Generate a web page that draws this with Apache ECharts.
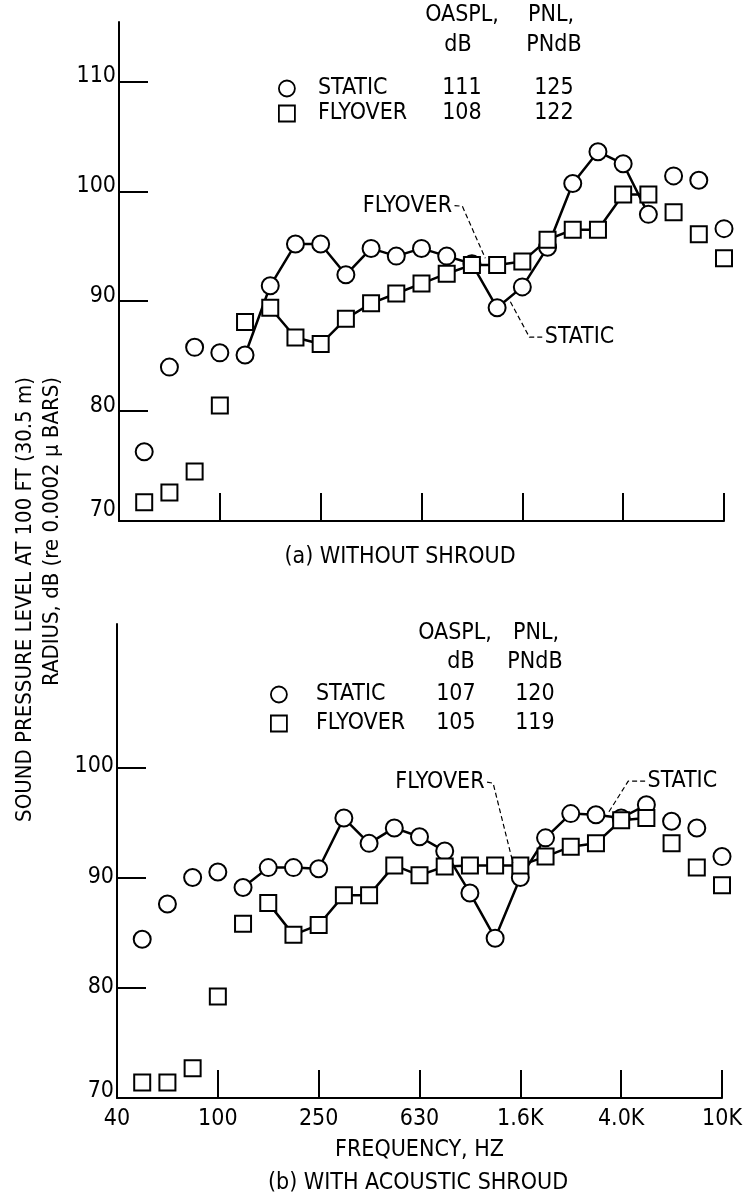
<!DOCTYPE html>
<html><head><meta charset="utf-8">
<script src="https://cdn.jsdelivr.net/npm/echarts@6/dist/echarts.min.js"></script>
<style>html,body{margin:0;padding:0;background:#fff}#c{width:745px;height:1198px}</style>
</head><body><div id="c"></div>
<script>
// one-third-octave band centre frequencies (Hz); index in this list = position on the x axis
const bands = [40,50,63,80,100,125,160,200,250,315,400,500,630,800,1000,1250,1600,2000,2500,3150,4000,5000,6300,8000,10000];
const measuredBands = [50,63,80,100,125,160,200,250,315,400,500,630,800,1000,1250,1600,2000,2500,3150,4000,5000,6300,8000,10000];
const tickLabels = ['40','100','250','630','1.6K','4.0K','10K'];

// (a) without shroud, dB
const staticA  = [76.3,84.0,85.8,85.3,85.1,91.4,95.2,95.2,92.4,94.8,94.1,94.8,94.1,93.4,89.4,91.3,94.9,100.7,103.6,102.5,97.9,101.4,101.0,96.6];
const flyoverA = [71.7,72.6,74.5,80.5,88.1,89.4,86.7,86.1,88.4,89.8,90.7,91.6,92.5,93.3,93.3,93.6,95.6,96.5,96.5,99.7,99.7,98.1,96.1,93.9];
// (b) with acoustic shroud, dB
const staticB  = [84.4,87.6,90.0,90.5,89.1,90.9,90.9,90.8,95.4,93.1,94.5,93.7,92.4,88.6,84.5,90.0,93.6,95.8,95.7,95.4,96.6,95.1,94.5,91.9];
const flyoverB = [71.4,71.4,72.7,79.2,85.8,87.7,84.8,85.7,88.4,88.4,91.1,90.2,91.0,91.1,91.1,91.1,91.9,92.8,93.1,95.2,95.4,93.1,90.9,89.3];

// frequency ranges joined by a curve
const staticLinked  = [125, 5000];
const flyoverLinked = [160, 5000];

const legendNames = ['STATIC','FLYOVER'];
const oasplA = [111,108], pnlA = [125,122];
const oasplB = [107,105], pnlB = [120,119];
const yLabelsA = [70,80,90,100,110], yTicksA = [80,90,100,110];
const yLabelsB = [70,80,90,100],     yTicksB = [80,90,100];

// annotation leaders in data space [band index, dB]
const leadFlyA  = [[13.31,98.70],[13.62,98.64],[14.53,93.90]];
const leadStatA = [[16.79,86.73],[16.28,86.73],[15.49,90.10]];
const leadFlyB  = [[14.68,98.65],[14.92,98.56],[15.71,91.30]];
const leadStatB = [[20.95,98.74],[20.28,98.74],[19.48,95.84]];

const FONT = '"Liberation Sans Narrow","DejaVu Sans Condensed","Arial Narrow",sans-serif';
const FS = 23;

function pts(vals){ return measuredBands.map((f,i)=>[bands.indexOf(f), vals[i]]); }
function linked(vals, r){ return pts(vals).filter(p => bands[p[0]] >= r[0] && bands[p[0]] <= r[1]); }

function xAxis(gi, showLabels){
  return {
    type:'value', gridIndex:gi, min:0, max:bands.length-1, interval:4,
    axisLine:{onZero:false, lineStyle:{color:'#000', width:2}},
    axisTick:{inside:true, length:28, lineStyle:{color:'#000', width:2}},
    splitLine:{show:false},
    axisLabel:{show:showLabels, margin:10, color:'#000', fontFamily:FONT, fontSize:FS,
      formatter: v => tickLabels[Math.round(v/4)] || ''},
    name: showLabels ? 'FREQUENCY, HZ' : '', nameLocation:'middle', nameGap:41,
    nameTextStyle:{color:'#000', fontFamily:FONT, fontSize:FS}
  };
}
function yAxis(gi, max, labels, ticks, pad){
  return {
    type:'value', gridIndex:gi, min:70, max:max, interval:10,
    axisLine:{onZero:false, lineStyle:{color:'#000', width:2}},
    axisTick:{inside:true, length:29, customValues:ticks, lineStyle:{color:'#000', width:2}},
    splitLine:{show:false},
    axisLabel:{customValues:labels, margin:3, color:'#000', fontFamily:FONT, fontSize:FS,
      padding:[0,0,pad,0],
      formatter: v => v === 70 ? '{z|70}' : String(v),
      rich:{z:{padding:[0,0,12,0], fontFamily:FONT, fontSize:FS, color:'#000'}}}
  };
}
function lineS(gi, vals, r){
  return {type:'line', xAxisIndex:gi, yAxisIndex:gi, data:linked(vals,r), symbol:'none',
    lineStyle:{color:'#000', width:2.5}, z:2, silent:true, animation:false};
}
function markS(gi, name, vals, sym, size){
  return {type:'scatter', name:name, xAxisIndex:gi, yAxisIndex:gi, data:pts(vals), symbol:sym, symbolSize:size,
    itemStyle:{color:'#fff', borderColor:'#000', borderWidth:2, opacity:1}, z:3, silent:true, animation:false};
}
function leader(gi, coords, text, pos){
  return {type:'line', xAxisIndex:gi, yAxisIndex:gi, symbol:'circle', symbolSize:1,
    itemStyle:{color:'rgba(0,0,0,0)'}, lineStyle:{color:'#000', width:1.2, type:[5,3]},
    z:4, silent:true, animation:false,
    data: coords.map((c,i)=> i===0 ? {value:c, label:{show:true, position:pos, distance:2, formatter:text,
      color:'#000', fontFamily:FONT, fontSize:FS}} : {value:c})};
}
function legend(top, left, oa, pn, wN, padN, wA, wB, gap){
  return {
    orient:'vertical', top:top, left:left, itemWidth:16, itemHeight:16, itemGap:gap,
    selectedMode:false, data:[{name:'STATIC', icon:'circle'},{name:'FLYOVER', icon:'rect'}],
    itemStyle:{color:'#fff', borderColor:'#000', borderWidth:1.8},
    formatter: name => { const i = legendNames.indexOf(name); return `{n|${name}}{a|${oa[i]}}{b|${pn[i]}}`; },
    textStyle:{color:'#000', fontFamily:FONT, fontSize:FS,
      rich:{
        n:{width:wN, padding:[0,0,0,padN], fontFamily:FONT, fontSize:FS, lineHeight:24, color:'#000'},
        a:{width:wA, align:'center', fontFamily:FONT, fontSize:FS, lineHeight:24, color:'#000'},
        b:{width:wB, align:'center', fontFamily:FONT, fontSize:FS, lineHeight:24, color:'#000'}
      }}
  };
}
function txt(x, y, s, align, rot, fs){
  return {type:'text', x:x, y:y, rotation:rot||0, silent:true,
    style:{text:s, fill:'#000', font:`${fs||FS}px ${FONT}`, textAlign:align||'center', textVerticalAlign:'middle'}};
}

const chart = echarts.init(document.getElementById('c'), null, {renderer:'canvas'});
chart.setOption({
  animation:false,
  backgroundColor:'#fff',
  grid:[
    {left:119, right:21, top:22, bottom:677, containLabel:false, outerBoundsMode:'none'},
    {left:117, right:23, top:624, bottom:100, containLabel:false, outerBoundsMode:'none'}
  ],
  xAxis:[xAxis(0,false), xAxis(1,true)],
  yAxis:[yAxis(0,115.4,yLabelsA,yTicksA,10), yAxis(1,113,yLabelsB,yTicksB,2)],
  legend:[
    legend(72, 273, oasplA, pnlA, 114, 18, 60, 124, 2),
    legend(678, 265, oasplB, pnlB, 110, 24, 60, 98, 6)
  ],
  series:[
    lineS(0, staticA, staticLinked), lineS(0, flyoverA, flyoverLinked),
    markS(0,'STATIC',staticA,'circle',17), markS(0,'FLYOVER',flyoverA,'rect',16),
    leader(0, leadFlyA, 'FLYOVER', 'left'), leader(0, leadStatA, 'STATIC', 'right'),
    lineS(1, staticB, staticLinked), lineS(1, flyoverB, flyoverLinked),
    markS(1,'STATIC',staticB,'circle',17), markS(1,'FLYOVER',flyoverB,'rect',16),
    leader(1, leadFlyB, 'FLYOVER', 'left'), leader(1, leadStatB, 'STATIC', 'right')
  ],
  graphic:[
    txt(462,15,'OASPL,'), txt(458,45,'dB'), txt(528,15,'PNL,','left'), txt(554,45,'PNdB'),
    txt(455,633,'OASPL,'), txt(461,662,'dB'), txt(513,633,'PNL,','left'), txt(535,662,'PNdB'),
    txt(400,557,'(a) WITHOUT SHROUD'),
    txt(418,1183,'(b) WITH ACOUSTIC SHROUD'),
    txt(25,377,'SOUND PRESSURE LEVEL AT 100 FT (30.5 m)','right',Math.PI/2,22),
    txt(52,377,'RADIUS, dB (re 0.0002 \u00b5 BARS)','right',Math.PI/2,22)
  ]
});
</script></body></html>
